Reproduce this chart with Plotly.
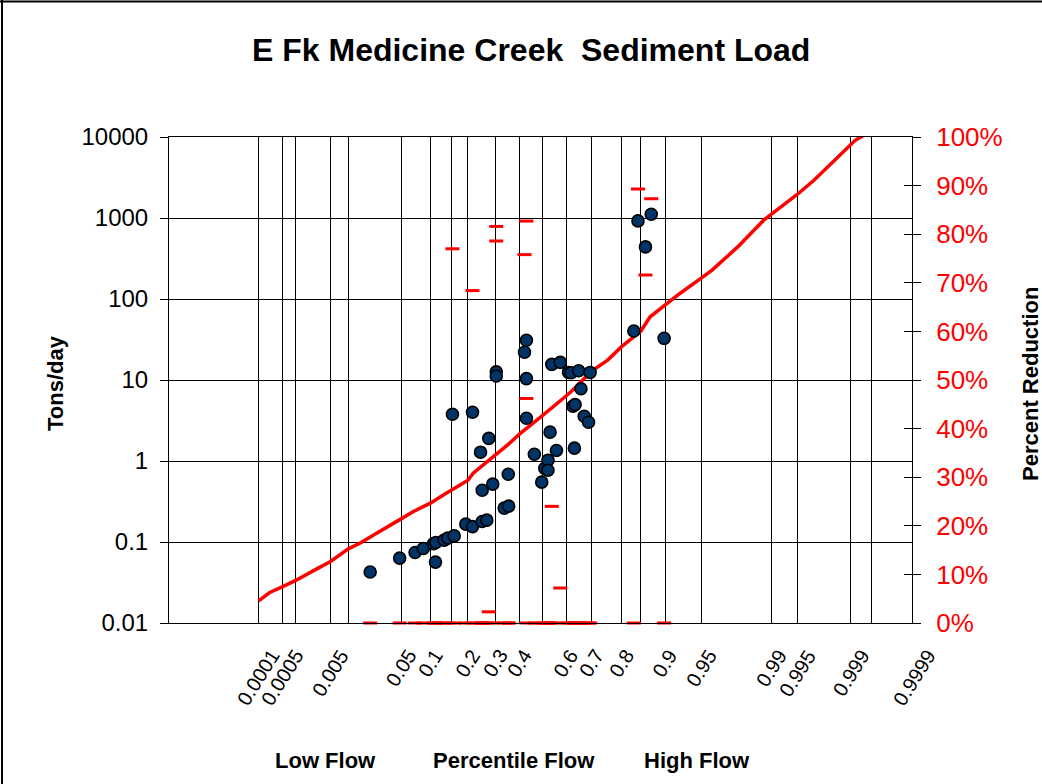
import plotly.graph_objects as go
from statistics import NormalDist

# ---------------- data ----------------
# water-quality samples: flow percentile, sediment load (tons/day), percent reduction needed
sample_percentile = [0.0208, 0.0482, 0.0705, 0.0851, 0.1057, 0.1102, 0.1111, 0.131, 0.1405, 0.153,
                     0.1578, 0.193, 0.215, 0.215, 0.243, 0.249, 0.249, 0.266, 0.2735, 0.2886,
                     0.3025, 0.3025, 0.3347, 0.3513, 0.353, 0.4206, 0.4289, 0.4289, 0.4289, 0.4635,
                     0.4958, 0.5092, 0.5229, 0.5229, 0.532, 0.5394, 0.5594, 0.5757, 0.6103, 0.621,
                     0.6278, 0.634, 0.6368, 0.6511, 0.66, 0.6725, 0.6889, 0.6948, 0.8325, 0.843,
                     0.8606, 0.8732, 0.8983]
sample_load = [0.0426, 0.0633, 0.0743, 0.0832, 0.0951, 0.0565, 0.0986, 0.1055, 0.1117, 3.78,
               0.119, 0.166, 4.0, 0.155, 1.285, 0.179, 0.436, 0.186, 1.90, 0.518,
               12.6, 11.2, 0.262, 0.687, 0.277, 22.0, 30.9, 10.4, 3.37, 1.21,
               0.548, 0.811, 1.02, 0.77, 2.27, 15.6, 1.35, 16.5, 12.4, 12.3,
               4.74, 1.44, 4.96, 13.0, 7.81, 3.57, 3.01, 12.4, 40.2, 921,
               440, 1114, 32.7]
sample_reduction = [0, 0, 0, 0, 0, 0, 0, 0, 0, 77.0,
                    0, 0, 68.4, 0, 0, 0, 0, 0, 2.3, 0,
                    81.6, 78.6, 0, 0, 0, 75.8, 82.7, 46.2, 0, 0,
                    0, 0, 0, 0, 0, 24.0, 0, 7.2, 0, 0,
                    0, 0, 0, 0, 0, 0, 0, 0, 0, 89.3,
                    71.6, 87.3, 0]

# load capacity (duration) curve
curve_percentile = [0.0001, 0.000222, 0.0005, 0.001, 0.00301, 0.005, 0.01, 0.0156, 0.0234, 0.0376,
                    0.05, 0.0678, 0.1, 0.1299, 0.15, 0.2, 0.2173, 0.2573, 0.3, 0.3488,
                    0.4, 0.4605, 0.5, 0.6, 0.6278, 0.7, 0.756, 0.8, 0.85, 0.871,
                    0.9, 0.9236, 0.95, 0.9598, 0.9772, 0.9878, 0.99, 0.99387, 0.995, 0.99687,
                    0.99848, 0.999, 0.99913, 0.99951]
curve_load = [0.0188, 0.0238, 0.0281, 0.0333, 0.0476, 0.057, 0.0824, 0.0986, 0.1227, 0.164,
              0.193, 0.238, 0.304, 0.382, 0.434, 0.58, 0.708, 0.92, 1.19, 1.58,
              2.16, 2.92, 3.65, 6.35, 7.53, 12.9, 17.6, 26.0, 40.2, 60.3,
              83.6, 117, 182, 227, 440, 940, 1114, 1657, 1965, 2924,
              5666, 8130, 9100, 12100]

grid_percentiles = [0.0001, 0.0005, 0.001, 0.005, 0.01, 0.05, 0.1, 0.15, 0.2, 0.3, 0.4, 0.5,
                    0.6, 0.7, 0.8, 0.85, 0.9, 0.95, 0.99, 0.995, 0.999, 0.9995, 0.9999]
label_percentiles = [0.0001, 0.0005, 0.005, 0.05, 0.1, 0.2, 0.3, 0.4, 0.6, 0.7, 0.8, 0.9,
                     0.95, 0.99, 0.995, 0.999, 0.9999]
label_text = ["0.0001", "0.0005", "0.005", "0.05", "0.1", "0.2", "0.3", "0.4", "0.6", "0.7",
              "0.8", "0.9", "0.95", "0.99", "0.995", "0.999", "0.9999"]
y_tick_vals = [0.01, 0.1, 1, 10, 100, 1000, 10000]
y_tick_text = ["0.01", "0.1", "1", "10", "100", "1000", "10000"]
pct_tick_vals = [0, 10, 20, 30, 40, 50, 60, 70, 80, 90, 100]
pct_tick_text = ["0%", "10%", "20%", "30%", "40%", "50%", "60%", "70%", "80%", "90%", "100%"]

# ---------------- probability scale ----------------
ND = NormalDist()


def prob_axis(p):
    z = ND.inv_cdf(p)
    return z * (1.005 - 0.000185 * z ** 4) + 0.035 * z * z


W, H = 1042, 784
L, R, T, B = 169, 912, 137, 623
XMIN, XMAX = -4.1066, 4.0582


def px_x(px):
    return (px - L) / (R - L)


def px_y(py):
    return (B - py) / (B - T)


def xpaper(w):
    return (w - XMIN) / (XMAX - XMIN)


FONT = "Arial, 'Liberation Sans', sans-serif"

fig = go.Figure()

fig.add_trace(go.Scatter(
    x=[prob_axis(p) for p in curve_percentile], y=curve_load, mode="lines",
    line=dict(color="#ff0000", width=3.5), yaxis="y", showlegend=False, hoverinfo="skip"))

fig.add_trace(go.Scatter(
    x=[prob_axis(p) for p in sample_percentile], y=sample_load, mode="markers",
    marker=dict(size=12, color="#003366", line=dict(color="#000000", width=1.6)),
    yaxis="y", showlegend=False))

fig.add_trace(go.Scatter(
    x=[prob_axis(p) for p in sample_percentile], y=sample_reduction, mode="markers",
    marker=dict(symbol="line-ew", size=10, color="#ff0000", line=dict(color="#ff0000", width=3)),
    yaxis="y2", showlegend=False, cliponaxis=False))

# dummy trace to activate the crossing-tick axis
fig.add_trace(go.Scatter(x=[None], y=[None], yaxis="y3", showlegend=False, hoverinfo="skip"))

fig.update_layout(
    width=W, height=H,
    margin=dict(l=L, r=W - R, t=T, b=H - B, pad=0),
    paper_bgcolor="white", plot_bgcolor="white",
    font=dict(family=FONT, color="black"),
    xaxis=dict(range=[XMIN, XMAX], tickvals=[prob_axis(p) for p in grid_percentiles],
               showticklabels=False, ticks="", showgrid=True, gridcolor="#000000", gridwidth=1,
               showline=True, linecolor="#000000", linewidth=1, mirror=True, zeroline=False),
    yaxis=dict(type="log", range=[-2, 4], tickvals=y_tick_vals, ticktext=y_tick_text,
               showgrid=True, gridcolor="#000000", gridwidth=1, ticks="outside", ticklen=8,
               tickcolor="#000000", showline=True, linecolor="#000000", linewidth=1, mirror=True,
               tickfont=dict(size=24, color="black"), ticklabelstandoff=7, zeroline=False),
    yaxis2=dict(range=[0, 100], overlaying="y", side="right", anchor="x", tickvals=pct_tick_vals,
                ticktext=pct_tick_text, showgrid=False, ticks="outside", ticklen=8,
                tickcolor="#000000", showline=True, linecolor="#000000", linewidth=1,
                zeroline=False, tickfont=dict(size=26, color="#ff0000"), ticklabelstandoff=10),
    yaxis3=dict(range=[0, 100], overlaying="y", side="right", anchor="x", tickvals=pct_tick_vals,
                showticklabels=False, showgrid=False, ticks="inside", ticklen=8,
                tickcolor="#000000", showline=False, zeroline=False),
)

ann = []
for p, txt in zip(label_percentiles, label_text):
    ann.append(dict(x=xpaper(prob_axis(p)), y=px_y(643), xref="paper", yref="paper",
                    text=txt, showarrow=False, textangle=-58, xanchor="center", yanchor="top",
                    font=dict(size=20, color="black", family=FONT)))

ann.append(dict(x=px_x(531), y=px_y(50), xref="paper", yref="paper",
                text="E Fk Medicine Creek  Sediment Load", showarrow=False,
                xanchor="center", yanchor="middle",
                font=dict(size=32, color="black", family=FONT, weight="bold")))
ann.append(dict(x=px_x(55), y=px_y(383), xref="paper", yref="paper", text="Tons/day",
                showarrow=False, textangle=-90, xanchor="center", yanchor="middle",
                font=dict(size=22, color="black", family=FONT, weight="bold")))
ann.append(dict(x=px_x(1030), y=px_y(384), xref="paper", yref="paper", text="Percent Reduction",
                showarrow=False, textangle=-90, xanchor="center", yanchor="middle",
                font=dict(size=22, color="black", family=FONT, weight="bold")))
for cx, txt in [(325, "Low Flow"), (514, "Percentile Flow"), (697, "High Flow")]:
    ann.append(dict(x=px_x(cx), y=px_y(760), xref="paper", yref="paper", text=txt,
                    showarrow=False, xanchor="center", yanchor="middle",
                    font=dict(size=22, color="black", family=FONT, weight="bold")))
fig.update_layout(annotations=ann)

# outer chart frame (top and left edges visible in the reference)
fig.add_shape(type="line", xref="paper", yref="paper", x0=px_x(0), x1=px_x(1042),
              y0=px_y(1.5), y1=px_y(1.5), line=dict(color="#000000", width=2))
fig.add_shape(type="line", xref="paper", yref="paper", x0=px_x(2), x1=px_x(2),
              y0=px_y(0), y1=px_y(784), line=dict(color="#000000", width=2))

fig.write_html("out.html", config={"displayModeBar": False},
               post_script="document.body.style.margin='0px';document.body.style.overflow='hidden';")
